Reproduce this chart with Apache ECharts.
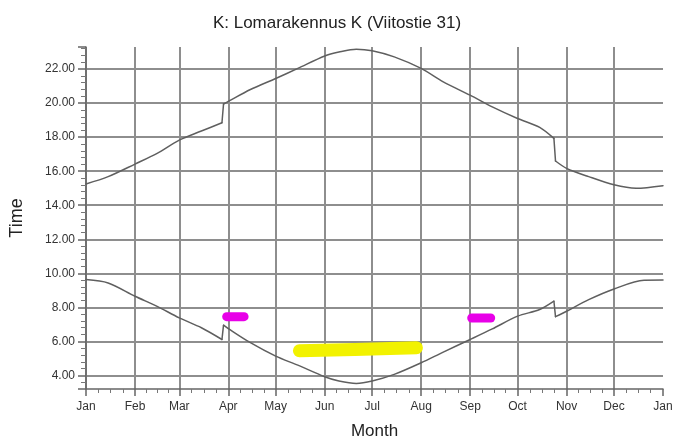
<!DOCTYPE html>
<html>
<head>
<meta charset="utf-8">
<script src="https://cdn.jsdelivr.net/npm/echarts@6/dist/echarts.min.js"></script>
<style>
  html, body { margin: 0; padding: 0; background: #fff; }
  #chart { width: 674px; height: 441px; }
</style>
</head>
<body>
<div id="chart"></div>
<script>
// month names for the x axis labels
const monthNames = ["Jan", "Feb", "Mar", "Apr", "May", "Jun", "Jul", "Aug", "Sep", "Oct", "Nov", "Dec"];

// sunset (upper curve), hours
const sunsetDates = ["2023-01-01", "2023-01-15", "2023-02-01", "2023-02-15", "2023-03-01", "2023-03-15", "2023-03-28", "2023-03-29",
  "2023-04-01", "2023-04-15", "2023-05-01", "2023-05-15", "2023-06-01", "2023-06-10", "2023-06-21", "2023-07-01",
  "2023-07-15", "2023-08-01", "2023-08-15", "2023-09-01", "2023-09-15", "2023-10-01", "2023-10-15", "2023-10-24",
  "2023-10-25", "2023-11-01", "2023-11-15", "2023-12-01", "2023-12-15", "2024-01-01"];
const sunsetValues = [15.25, 15.68, 16.42, 17.05, 17.83, 18.36, 18.85, 19.95,
  20.1, 20.8, 21.45, 22.04, 22.77, 23.0, 23.17, 23.08,
  22.72, 22.04, 21.25, 20.47, 19.78, 19.1, 18.58, 17.93,
  16.6, 16.17, 15.68, 15.2, 15.0, 15.15];

// sunrise (lower curve), hours
const sunriseDates = ["2023-01-01", "2023-01-15", "2023-02-01", "2023-02-15", "2023-03-01", "2023-03-15", "2023-03-28", "2023-03-29",
  "2023-04-01", "2023-04-15", "2023-05-01", "2023-05-15", "2023-06-01", "2023-06-10", "2023-06-21", "2023-07-01",
  "2023-07-15", "2023-08-01", "2023-08-15", "2023-09-01", "2023-09-15", "2023-10-01", "2023-10-15", "2023-10-24",
  "2023-10-25", "2023-11-01", "2023-11-15", "2023-12-01", "2023-12-20", "2024-01-01"];
const sunriseValues = [9.63, 9.43, 8.65, 8.06, 7.38, 6.8, 6.11, 6.95,
  6.75, 5.92, 5.13, 4.6, 3.92, 3.67, 3.53, 3.67,
  4.06, 4.74, 5.37, 6.11, 6.73, 7.48, 7.87, 8.36,
  7.45, 7.77, 8.45, 9.08, 9.59, 9.6];

// highlighted periods
const magentaADates = ["2023-03-31", "2023-04-11"];
const magentaAValues = [7.45, 7.45];
const magentaBDates = ["2023-09-02", "2023-09-14"];
const magentaBValues = [7.37, 7.37];
const yellowDates = ["2023-05-16", "2023-06-20", "2023-07-29"];
const yellowValues = [5.45, 5.52, 5.62];

const pairs = (dates, values) => dates.map((d, i) => [d, values[i]]);

// clock change jumps (one day apart) are drawn straight, the rest smoothed
const DAY = 86400000;
const splitAtJumps = (data) => {
  const parts = [];
  let cur = [data[0]];
  for (let i = 1; i < data.length; i++) {
    const gap = new Date(data[i][0]) - new Date(data[i - 1][0]);
    if (gap <= DAY * 1.5) {
      parts.push({ smooth: true, data: cur });
      parts.push({ smooth: false, data: [data[i - 1], data[i]] });
      cur = [data[i]];
    } else {
      cur.push(data[i]);
    }
  }
  parts.push({ smooth: true, data: cur });
  return parts;
};

const chart = echarts.init(document.getElementById("chart"), null, { renderer: "canvas" });

const gridColor = "#8e8e8e";
const textColor = "#333";
const curveColor = "#5f5f5f";
const fontFamily = "'Liberation Sans', Arial, sans-serif";

const lineSeries = (data, color, width, smooth) => ({
  type: "line",
  data: data,
  symbol: "none",
  silent: true,
  smooth: smooth ? 0.3 : false,
  lineStyle: { color: color, width: width, cap: "round", join: "round" },
});

const curveSeries = [];
[pairs(sunsetDates, sunsetValues), pairs(sunriseDates, sunriseValues)].forEach((d) => {
  splitAtJumps(d).forEach((p) => curveSeries.push(lineSeries(p.data, curveColor, 1.5, p.smooth)));
});

chart.setOption({
  animation: false,
  backgroundColor: "#fff",
  textStyle: { fontFamily: fontFamily },
  title: {
    text: "K: Lomarakennus K (Viitostie 31)",
    left: "center",
    top: 10,
    textStyle: { fontSize: 17, fontWeight: "normal", color: "#222", fontFamily: fontFamily },
  },
  grid: { left: 86, right: 11, top: 47, bottom: 52, containLabel: false, outerBoundsMode: "none" },
  xAxis: {
    type: "time",
    min: "2023-01-01",
    max: "2024-01-01",
    splitNumber: 12,
    name: "Month",
    nameLocation: "middle",
    nameGap: 34,
    nameTextStyle: { fontSize: 17, color: "#222" },
    axisLine: { lineStyle: { color: "#666", width: 1.5 } },
    axisTick: { show: true, length: 7, lineStyle: { color: "#666", width: 1.5 } },
    minorTick: { show: true, splitNumber: 4, length: 4, lineStyle: { color: "#777" } },
    axisLabel: {
      color: textColor,
      fontSize: 12,
      margin: 12,
      showMinLabel: true,
      showMaxLabel: true,
      formatter: (val) => monthNames[new Date(val).getMonth()],
    },
    splitLine: { show: true, showMinLine: false, showMaxLine: false, lineStyle: { color: gridColor, width: 2 } },
  },
  yAxis: {
    type: "value",
    min: 3.2,
    max: 23.3,
    splitNumber: 10,
    minInterval: 2,
    maxInterval: 2,
    name: "Time",
    nameLocation: "middle",
    nameGap: 60,
    nameRotate: 90,
    nameTextStyle: { fontSize: 18, color: "#222" },
    axisLine: { show: true, lineStyle: { color: "#666", width: 1.5 } },
    axisTick: { show: true, length: 8, lineStyle: { color: "#666", width: 1.5 } },
    minorTick: { show: true, splitNumber: 5, length: 5, lineStyle: { color: "#777" } },
    axisLabel: {
      color: textColor,
      fontSize: 12,
      margin: 11,
      showMinLabel: false,
      showMaxLabel: false,
      formatter: (v) => v.toFixed(2),
    },
    splitLine: { show: true, showMinLine: false, showMaxLine: false, lineStyle: { color: gridColor, width: 2 } },
  },
  series: [
    lineSeries(pairs(yellowDates, yellowValues), "#f2f200", 13),
    lineSeries(pairs(magentaADates, magentaAValues), "#e800e8", 9),
    lineSeries(pairs(magentaBDates, magentaBValues), "#e800e8", 9),
  ].concat(curveSeries),
});
</script>
</body>
</html>
